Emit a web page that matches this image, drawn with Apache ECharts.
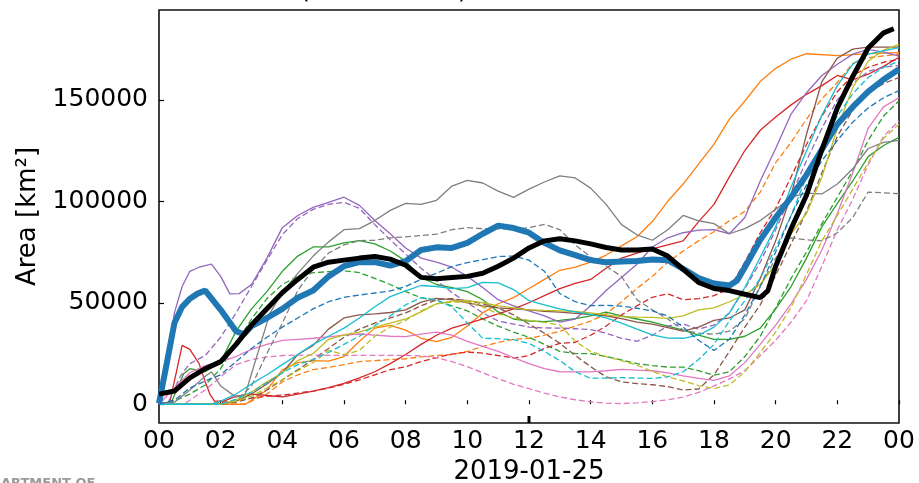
<!DOCTYPE html>
<html><head><meta charset="utf-8">
<script src="https://cdn.jsdelivr.net/npm/echarts@6/dist/echarts.min.js"></script>
<style>html,body{margin:0;padding:0;background:#fff}#c{width:919px;height:483px}</style>
</head><body><div id="c"></div>
<script>
const xTicks = [0,2,4,6,8,10,12,14,16,18,20,22,24];
const yTicks = [0,50000,100000,150000];
const dateLabel = '2019-01-25';
const yName = 'Area [km²]';

const observed = [[0,5000],[0.5,6500],[1,13000],[1.5,17500],[2,21000],[2.5,29500],[3,39000],[3.5,47000],[4,55000],[4.5,61500],[5,67500],[5.5,70000],[6,71000],[6.5,72000],[7,72800],[7.5,71500],[8,68500],[8.5,62500],[9,61800],[9.5,62400],[10,63000],[10.5,64500],[11,68000],[11.5,72000],[12,77000],[12.5,80500],[13,81500],[13.5,80500],[14,79000],[14.5,77200],[15,76000],[15.5,76000],[16,76500],[16.5,73000],[17,66500],[17.5,60000],[18,57000],[18.5,56000],[19,54200],[19.5,52500],[19.75,56000],[20,68000],[20.5,86500],[21,103000],[21.5,125500],[22,146000],[22.5,161500],[23,175500],[23.5,183000],[23.83,185000]];
const meanArea = [[0,500],[0.25,20000],[0.5,40000],[0.75,48000],[1,52000],[1.25,54500],[1.5,56000],[2,46500],[2.5,36000],[2.75,34500],[3,38500],[3.5,42500],[4,47000],[4.5,52500],[5,56000],[5.5,63000],[6,68000],[6.5,70000],[7,70000],[7.5,68300],[8,70500],[8.5,76000],[9,77300],[9.5,77000],[10,79500],[10.5,84000],[11,88000],[11.5,86800],[12,84500],[12.5,79500],[13,75800],[13.5,73500],[14,71000],[14.5,70000],[15,70300],[15.5,70600],[16,71300],[16.5,71000],[17,66700],[17.5,62200],[18,59500],[18.5,58500],[18.75,61000],[19,67500],[19.5,81000],[20,92000],[20.5,102000],[21,113000],[21.5,125500],[22,138000],[22.5,146500],[23,154000],[23.5,160000],[24,165000]];

const orangeS = [[0,0],[2.8,0],[3,2000],[3.5,7000],[4,17000],[4.5,20500],[5,21500],[5.5,21200],[6,23500],[6.5,31000],[7,37500],[7.5,38800],[8,36500],[8.5,32500],[9,30800],[9.5,33000],[10,38500],[10.5,45000],[11,49500],[11.5,52500],[12,57000],[12.5,61500],[13,66000],[13.5,67500],[14,70000],[14.5,73500],[15,78000],[15.5,82500],[16,90000],[16.5,100000],[17,108500],[17.5,118300],[18,128200],[18.5,140500],[19,149400],[19.5,159000],[20,165500],[20.5,170000],[21,172700],[22,171800],[23,172800],[24,173200]];
const orangeD = [[0,0],[2.8,0],[3,1500],[3.5,5000],[4,11000],[4.5,14500],[5,17000],[5.5,18200],[6,19500],[6.5,21000],[7,21500],[7.5,22000],[8,22400],[8.5,23300],[9,24000],[9.5,24500],[10,26000],[10.5,28500],[11,30500],[11.5,32000],[12,32500],[12.5,34000],[13,36000],[13.5,38500],[14,41000],[14.5,44500],[15,50500],[15.5,57000],[16,63000],[16.5,70000],[17,75500],[17.5,80500],[18,85000],[18.5,90400],[19,95000],[19.5,104500],[20,119000],[20.5,129000],[21,140500],[21.5,150500],[22,158500],[22.5,168000],[23,170700],[24,172500]];
const redS = [[0,0],[0.35,1000],[0.55,15000],[0.75,29000],[1,27000],[1.3,20000],[1.5,11000],[1.65,5000],[1.8,1500],[2.1,1500],[2.5,4000],[3,5000],[3.5,4300],[4,3600],[4.5,5000],[5,6500],[5.5,8200],[6,10300],[6.5,13000],[7,16000],[7.5,20000],[8,24500],[8.5,29500],[9,34000],[9.5,37500],[10,39700],[10.5,42000],[11,44500],[11.5,47000],[12,50000],[12.5,53500],[13,57000],[13.5,59500],[14,61500],[14.5,67000],[15,72000],[15.5,74500],[16,76500],[16.5,78500],[17,80500],[17.5,90000],[18,98500],[18.5,112000],[19,125000],[19.5,135000],[20,141500],[20.5,147500],[21,152700],[21.5,157000],[22,162000],[22.5,159800],[23,162600],[23.5,166500],[24,171000]];
const redD = [[0,0],[1.5,0],[2,700],[2.5,2000],[3,3000],[3.5,3900],[4,4500],[4.5,5500],[5,6500],[5.5,8000],[6,9800],[6.5,12000],[7,14500],[7.5,17000],[8,18500],[8.5,21000],[9,23000],[9.5,24700],[10,25700],[10.5,25200],[11,24000],[11.5,22700],[12,24000],[12.5,27500],[13,30000],[13.5,30500],[14,34000],[14.5,38500],[15,44000],[15.5,48500],[16,52700],[16.5,54400],[17,51500],[17.5,52000],[18,53500],[18.5,57000],[19,70000],[19.5,84500],[20,96500],[20.5,112000],[21,128000],[21.5,142000],[22,154000],[22.5,162000],[23,166000],[23.5,168500],[24,169900]];
const greenS = [[0,0],[0.4,1000],[0.6,8000],[0.8,15000],[1,17500],[1.5,16000],[2,21000],[2.5,36000],[3,47000],[3.5,55500],[4,65500],[4.5,73000],[5,77500],[5.5,77500],[6,79500],[6.5,80600],[7,79000],[7.5,75500],[8,70500],[8.5,62500],[9,59000],[9.5,57500],[10,55500],[10.5,51500],[11,45500],[11.5,42000],[12,41000],[12.5,40700],[13,41300],[13.5,42200],[14,43500],[14.5,45400],[15,43500],[15.5,42000],[16,40500],[16.5,38500],[17,36500],[17.5,34000],[18,32000],[18.5,32000],[19,33500],[19.5,37500],[20,47000],[20.5,58000],[21,72000],[21.5,87500],[22,99000],[22.5,110000],[23,122000],[23.5,127500],[24,131500]];
const greenD = [[0,0],[0.5,1500],[1,5000],[1.5,9500],[2,17500],[2.5,30000],[3,42000],[3.5,52000],[4,59000],[4.5,63000],[5,64800],[5.5,65300],[6,65800],[6.5,64800],[7,62000],[7.5,59000],[8,55500],[8.5,52500],[9,51000],[9.5,48500],[10,46000],[10.5,42000],[11,38500],[11.5,35500],[12,33000],[12.5,29500],[13,26000],[13.5,25000],[14,24900],[14.5,23500],[15,21800],[15.5,20000],[16,19000],[16.5,18300],[17,18300],[17.5,16500],[18,14300],[18.5,16000],[19,23500],[19.5,33500],[20,47500],[20.5,62000],[21,75000],[21.5,89000],[22,102000],[22.5,115000],[23,130000],[23.5,142000],[24,149500]];
const purpleS = [[0,0],[0.25,20000],[0.5,45000],[0.75,58000],[1,65500],[1.3,67500],[1.7,69000],[2,63000],[2.3,54400],[2.6,54500],[3,59000],[3.5,72000],[4,87000],[4.5,93000],[5,97000],[5.5,99500],[6,102000],[6.5,98000],[7,90500],[7.5,84000],[8,77000],[8.5,72000],[9,70000],[9.5,67500],[10,63000],[10.5,57500],[11,51500],[11.5,48500],[12,46000],[12.5,43500],[13,40500],[13.5,42000],[14,48500],[14.5,56000],[15,62500],[15.5,69000],[16,77500],[16.5,82000],[17,84500],[17.5,85800],[18,86000],[18.5,84000],[19,92000],[19.5,110000],[20,126000],[20.5,143000],[21,153500],[21.5,162000],[22,167500],[22.5,172500],[23,174800],[23.5,173500],[24,171500]];
const purpleD = [[0,0],[0.3,1000],[0.7,14000],[1,20000],[1.5,24000],[2,33000],[2.5,45000],[3,58000],[3.5,71000],[4,83500],[4.5,91500],[5,96000],[5.5,98500],[6,99500],[6.5,96500],[7,88500],[7.5,81000],[8,74000],[8.5,67000],[9,61000],[9.5,55000],[10,50000],[10.5,45000],[11,41000],[11.5,39500],[12,38000],[12.5,37600],[13,37500],[13.5,37200],[14,36800],[14.5,35000],[15,32500],[15.5,31000],[16,34000],[16.5,38500],[17,39500],[17.5,37000],[18,39000],[18.5,45000],[19,57000],[19.5,70000],[20,86000],[20.5,103000],[21,120000],[21.5,136000],[22,150000],[22.5,158000],[23,164000],[23.5,166000],[24,167000]];
const brownS = [[0,0],[2,0],[2.5,1500],[3,5000],[3.5,10000],[4,15500],[4.5,24500],[5,29000],[5.5,37000],[6,42500],[6.5,44000],[7,44500],[7.5,45200],[8,46500],[8.5,50300],[9,52200],[9.5,51500],[10,50000],[10.5,48500],[11,47500],[11.5,47000],[12,46500],[12.5,45800],[13,45400],[13.5,44800],[14,44200],[14.5,43600],[15,42200],[15.5,40500],[16,39500],[16.5,37800],[17,36000],[17.5,38000],[18,41300],[18.5,42500],[19,46500],[19.5,62000],[20,80500],[20.5,103000],[21,133000],[21.5,159000],[22,170500],[22.5,175000],[23,176000],[24,176000]];
const brownD = [[0,0],[2,0],[2.5,1000],[3,3000],[3.5,7000],[4,12000],[4.5,17000],[5,22000],[5.5,27500],[6,33000],[6.5,37000],[7,40000],[7.5,42500],[8,45000],[8.5,48500],[9,51500],[9.5,52000],[10,51000],[10.5,49500],[11,47500],[11.5,44000],[12,39500],[12.5,35000],[13,30000],[13.5,24000],[14,18500],[14.5,13500],[15,11000],[15.5,10200],[16,9600],[16.5,8700],[17,7000],[17.5,7500],[18,14500],[18.5,26000],[19,38000],[19.5,49000],[20,63500],[20.5,79000],[21,95000],[21.5,114000],[22,132000],[22.5,145000],[23,153500],[23.5,158000],[24,161000]];
const pinkS = [[0,0],[0.5,8000],[1,15500],[1.5,19000],[2,21000],[2.5,23500],[3,27000],[3.5,29500],[4,31500],[4.5,32000],[5,32500],[5.5,33200],[6,34000],[6.5,34600],[7,34000],[7.5,33500],[8,33300],[8.5,34500],[9,35500],[9.5,34000],[10,31000],[10.5,28500],[11,26000],[11.5,23000],[12,20000],[12.5,17500],[13,16000],[13.5,15900],[14,15900],[14.5,16500],[15,17200],[15.5,16800],[16,16500],[16.5,15500],[17,14000],[17.5,12700],[18,11800],[18.5,14000],[19,20500],[19.5,29500],[20,39000],[20.5,49500],[21,61500],[21.5,76000],[22,94000],[22.5,114000],[23,136000],[23.5,146500],[24,151000]];
const pinkD = [[0,0],[0.8,0],[1,2000],[1.5,7000],[2,13500],[2.5,19500],[3,22000],[3.5,23300],[4,24000],[4.5,24200],[5,24200],[5.5,24100],[6,24100],[6.5,24100],[7,24100],[7.5,24100],[8,24100],[8.5,23800],[9,22900],[9.5,21000],[10,18500],[10.5,15500],[11,12600],[11.5,9800],[12,7700],[12.5,5500],[13,3600],[13.5,2200],[14,1200],[14.5,500],[15,300],[15.5,700],[16,1300],[16.5,2200],[17,3500],[17.5,5800],[18,9000],[18.5,12500],[19,16500],[19.5,24000],[20,31500],[20.5,40500],[21,51000],[21.5,68000],[22,86000],[22.5,101000],[23,118000],[23.5,132000],[24,139600]];
const grayS = [[0,0],[0.5,1000],[1,7000],[1.4,12500],[1.7,16000],[2,9000],[2.5,3500],[2.8,5000],[3,15000],[3.3,30000],[3.6,45000],[4,55000],[4.5,64500],[5,73000],[5.5,80000],[6,86000],[6.5,86500],[7,90500],[7.5,95500],[8,99000],[8.5,98500],[9,100500],[9.5,107500],[10,110300],[10.5,109000],[11,105000],[11.5,101900],[12,106000],[12.5,109500],[13,112500],[13.5,111500],[14,106500],[14.5,98500],[15,88500],[15.5,83500],[16,80800],[16.5,86000],[17,93000],[17.5,90400],[18,89000],[18.5,84000],[19,86500],[19.5,90500],[20,96000],[20.5,102000],[21,104000],[21.5,103600],[22,108500],[22.5,116000],[23,126000],[23.5,129000],[24,130000]];
const grayD = [[0,0],[2,0],[2.5,1500],[3,9000],[3.5,25000],[4,40000],[4.5,56000],[5,66500],[5.5,74500],[6,78500],[6.5,80600],[7,80800],[7.5,82000],[8,82500],[8.5,83100],[9,83800],[9.5,86000],[10,87000],[10.5,86500],[11,86400],[11.5,86400],[12,87000],[12.5,88600],[13,86000],[13.5,78500],[14,72500],[14.5,68000],[15,63000],[15.5,51500],[16,46500],[16.5,42000],[17,36500],[17.5,35000],[18,34500],[18.5,36000],[19,42000],[19.5,58000],[20,72000],[20.5,82000],[21,81000],[21.5,80500],[22,84500],[22.5,92000],[23,104500],[23.5,104200],[24,103700]];
const oliveS = [[0,0],[2,0],[2.5,2000],[3,6000],[3.5,11000],[4,15500],[4.5,21500],[5,25000],[5.5,32000],[6,34200],[6.5,35500],[7,38000],[7.5,40000],[8,42000],[8.5,45500],[9,49500],[9.5,50800],[10,51100],[10.5,50000],[11,48500],[11.5,47500],[12,46500],[12.5,46200],[13,46000],[13.5,45700],[14,45000],[14.5,44000],[15,43200],[15.5,42900],[16,42800],[16.5,42300],[17,43500],[17.5,46500],[18,47500],[18.5,50500],[19,54000],[19.5,59000],[20,69000],[20.5,84000],[21,94000],[21.5,112000],[22,136000],[22.5,156000],[23,169000],[23.5,174500],[24,177300]];
const oliveD = [[0,0],[2,0],[2.5,1500],[3,4000],[3.5,8000],[4,12000],[4.5,16500],[5,20500],[5.5,26500],[6,24500],[6.5,26500],[7,33500],[7.5,38000],[8,41300],[8.5,46000],[9,49500],[9.5,50300],[10,50300],[10.5,48000],[11,44500],[11.5,42500],[12,41300],[12.5,40300],[13,39000],[13.5,31000],[14,26000],[14.5,23500],[15,21500],[15.5,19200],[16,16200],[16.5,13500],[17,11500],[17.5,9200],[18,7700],[18.5,9500],[19,16000],[19.5,25500],[20,35500],[20.5,47800],[21,64000],[21.5,80500],[22,93000],[22.5,106000],[23,119000],[23.5,131000],[24,138000]];
const cyanS = [[0,0],[1.7,0],[2,1500],[2.5,5000],[3,10000],[3.5,14500],[4,19500],[4.5,24500],[5,29500],[5.5,33500],[6,37500],[6.5,42500],[7,48000],[7.5,53000],[8,55800],[8.5,58500],[9,58000],[9.5,57000],[10,57500],[10.5,60000],[11,59800],[11.5,56500],[12,51000],[12.5,49000],[13,47000],[13.5,45500],[14,44300],[14.5,42500],[15,40000],[15.5,37000],[16,34200],[16.5,32600],[17,32500],[17.5,34000],[18,38000],[18.5,45000],[19,57500],[19.5,72400],[20,87500],[20.5,107000],[21,124800],[21.5,142500],[22,157000],[22.5,167500],[23,172500],[24,175700]];
const cyanD = [[0,0],[2,0],[2.5,2500],[3,6000],[3.5,10500],[4,15500],[4.5,19500],[5,22000],[5.5,25500],[6,29500],[6.5,33500],[7,38800],[7.5,43500],[8,49000],[8.5,52500],[9,51500],[9.5,48000],[10,40000],[10.5,32500],[11,32300],[11.5,31800],[12,30000],[12.5,26000],[13,21500],[13.5,16000],[14,12800],[14.5,12900],[15,13100],[15.5,12900],[16,12700],[16.5,13500],[17,16000],[17.5,22000],[18,29500],[18.5,41000],[19,51000],[19.5,62000],[20,77000],[20.5,93000],[21,112000],[21.5,128000],[22,142000],[22.5,153000],[23,161000],[23.5,166000],[24,169000]];
const blueD = [[0,0],[0.5,2000],[1,8000],[1.5,11500],[2,14500],[2.5,21000],[3,27500],[3.5,33000],[4,38000],[4.5,42500],[5,47000],[5.5,50500],[6,52700],[6.5,53800],[7,54800],[7.5,55800],[8,58000],[8.5,61500],[9,64500],[9.5,67800],[10,69800],[10.5,71200],[11,72800],[11.5,73000],[12,71000],[12.5,65500],[13,54500],[13.5,50500],[14,48600],[14.5,48700],[15,48300],[15.5,47300],[16,46000],[16.5,43500],[17,38000],[17.5,31500],[18,26500],[18.5,32000],[19,44000],[19.5,58000],[20,75000],[20.5,93000],[21,108000],[21.5,120000],[22,130000],[22.5,139000],[23,146000],[23.5,151000],[24,154500]];

const members = [
  ['#ff7f0e', orangeS, false], ['#ff7f0e', orangeD, true],
  ['#2ca02c', greenS, false], ['#2ca02c', greenD, true],
  ['#d62728', redS, false], ['#d62728', redD, true],
  ['#9467bd', purpleS, false], ['#9467bd', purpleD, true],
  ['#8c564b', brownS, false], ['#8c564b', brownD, true],
  ['#e377c2', pinkS, false], ['#e377c2', pinkD, true],
  ['#7f7f7f', grayS, false], ['#7f7f7f', grayD, true],
  ['#bcbd22', oliveS, false], ['#bcbd22', oliveD, true],
  ['#17becf', cyanS, false], ['#17becf', cyanD, true],
  ['#1f77b4', blueD, true]
];

const FONT = 'DejaVu Sans';
const series = members.map(m => ({
  type: 'line', data: m[1], showSymbol: false, silent: true,
  lineStyle: { color: m[0], width: 1.3, type: m[2] ? [6, 3] : 'solid' }
}));
series.push({ type: 'line', data: meanArea, showSymbol: false, silent: true,
  lineStyle: { color: '#1f77b4', width: 6 } });
series.push({ type: 'line', data: observed, showSymbol: false, silent: true,
  lineStyle: { color: '#000000', width: 5 } });

const chart = echarts.init(document.getElementById('c'), null, { renderer: 'canvas' });
chart.setOption({
  animation: false,
  backgroundColor: '#fff',
  grid: { left: 159, right: 20, top: 10, bottom: 60, show: true, borderColor: '#111', borderWidth: 1.6,
    containLabel: false, outerBoundsMode: 'none' },
  xAxis: {
    type: 'value', min: 0, max: 24, interval: 2,
    name: dateLabel, nameLocation: 'middle', nameGap: 36,
    nameTextStyle: { fontFamily: FONT, fontSize: 26, color: '#000' },
    axisLine: { show: false },
    splitLine: { show: false },
    axisTick: { show: true, inside: true, length: 4, lineStyle: { color: '#000', width: 1.2 } },
    axisLabel: { fontFamily: FONT, fontSize: 25, color: '#000', margin: 6,
      formatter: v => String(v % 24).padStart(2, '0') }
  },
  yAxis: {
    type: 'value', min: -9250, max: 194250,
    name: yName, nameLocation: 'middle', nameGap: 109, nameRotate: 90,
    nameTextStyle: { fontFamily: FONT, fontSize: 26, color: '#000' },
    axisLine: { show: false },
    splitLine: { show: false },
    axisTick: { show: true, inside: true, length: 5, customValues: yTicks, lineStyle: { color: '#000', width: 1.2 } },
    axisLabel: { fontFamily: FONT, fontSize: 25, color: '#000', margin: 11, customValues: yTicks,
      formatter: v => String(v) }
  },
  series: series
});

const p12 = chart.convertToPixel({ xAxisIndex: 0, yAxisIndex: 0 }, [12, -9250]);
chart.setOption({
  graphic: [
    { type: 'rect', shape: { x: p12[0] - 1.5, y: p12[1] - 7, width: 3, height: 7 }, style: { fill: '#000' }, z: 100 },
    { type: 'text', x: 300, y: -8.5, style: { text: '(', font: '25px "DejaVu Sans"', fill: '#000', verticalAlign: 'middle' } },
    { type: 'text', x: 458, y: -8.5, style: { text: ')', font: '25px "DejaVu Sans"', fill: '#000', verticalAlign: 'middle' } },
    { type: 'text', x: 1, y: 484, style: { text: 'ARTMENT OF', font: 'bold 13px "DejaVu Sans"', fill: '#9a9a9a', verticalAlign: 'middle' } }
  ]
});
</script></body></html>
